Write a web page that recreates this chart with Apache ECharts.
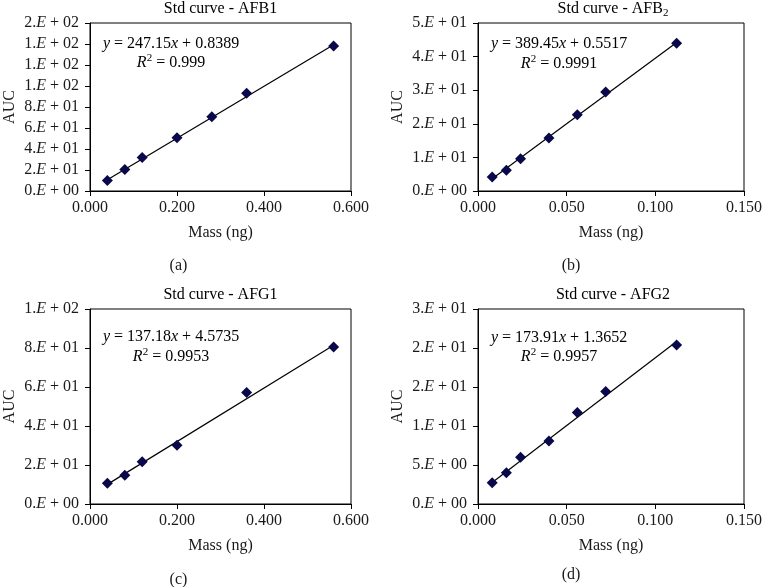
<!DOCTYPE html>
<html>
<head>
<meta charset="utf-8">
<script src="https://cdn.jsdelivr.net/npm/echarts@6/dist/echarts.min.js"></script>
<style>html,body{margin:0;padding:0;background:#fff;}#c{width:765px;height:587px;}</style>
</head>
<body>
<div id="c"></div>
<script>
// ---- data ----
const massA = [0.04, 0.08, 0.12, 0.20, 0.28, 0.36, 0.56];
const aucA  = [10.0, 20.4, 31.9, 50.6, 70.6, 93.2, 138.0];
const massB = [0.008, 0.016, 0.024, 0.040, 0.056, 0.072, 0.112];
const aucB  = [4.2, 6.2, 9.6, 15.8, 22.7, 29.5, 44.0];
const massC = [0.04, 0.08, 0.12, 0.20, 0.36, 0.56];
const aucC  = [10.6, 14.7, 21.7, 30.1, 57.2, 80.5];
const massD = [0.008, 0.016, 0.024, 0.040, 0.056, 0.072, 0.112];
const aucD  = [2.74, 4.02, 5.99, 8.09, 11.73, 14.43, 20.4];

const slopes     = [247.15, 389.45, 137.18, 173.91];
const intercepts = [0.8389, 0.5517, 4.5735, 1.3652];
const r2Values   = ['0.999', '0.9991', '0.9953', '0.9957'];
const slopeText  = ['247.15', '389.45', '137.18', '173.91'];
const interText  = ['0.8389', '0.5517', '4.5735', '1.3652'];

const yTicksA = ['0.E + 00','2.E + 01','4.E + 01','6.E + 01','8.E + 01','1.E + 02','1.E + 02','1.E + 02','2.E + 02'];
const yTicksB = ['0.E + 00','1.E + 01','2.E + 01','3.E + 01','4.E + 01','5.E + 01'];
const yTicksC = ['0.E + 00','2.E + 01','4.E + 01','6.E + 01','8.E + 01','1.E + 02'];
const yTicksD = ['0.E + 00','5.E + 00','1.E + 01','2.E + 01','2.E + 01','3.E + 01'];
const xTicksAC = ['0.000','0.200','0.400','0.600'];
const xTicksBD = ['0.000','0.050','0.100','0.150'];

const titles = ['Std curve - AFB1', 'Std curve - AFB{sub|2}', 'Std curve - AFG1', 'Std curve - AFG2'];
const panelTags = ['(a)', '(b)', '(c)', '(d)'];

// ---- layout ----
const FONT = '"Liberation Serif", "Times New Roman", serif';
const FS = 16;
const TXT = '#1a1a1a';
const MARK = '#08084a';
const panels = [
  {mass: massA, auc: aucA, yTicks: yTicksA, xTicks: xTicksAC, xMax: 0.6, xInt: 0.2, yMax: 160, yInt: 20,
   grid: {left: 90, top: 23, width: 261, height: 168}, titleY: 9, eqY: 44, r2Y: 63, tagY: 266},
  {mass: massB, auc: aucB, yTicks: yTicksB, xTicks: xTicksBD, xMax: 0.15, xInt: 0.05, yMax: 50, yInt: 10,
   grid: {left: 478, top: 23, width: 270, height: 168}, titleY: 9, eqY: 44, r2Y: 64, tagY: 266},
  {mass: massC, auc: aucC, yTicks: yTicksC, xTicks: xTicksAC, xMax: 0.6, xInt: 0.2, yMax: 100, yInt: 20,
   grid: {left: 90, top: 309, width: 261, height: 195}, titleY: 295, eqY: 337, r2Y: 357, tagY: 580},
  {mass: massD, auc: aucD, yTicks: yTicksD, xTicks: xTicksBD, xMax: 0.15, xInt: 0.05, yMax: 25, yInt: 5,
   grid: {left: 478, top: 309, width: 270, height: 195}, titleY: 295, eqY: 338, r2Y: 357, tagY: 575}
];

const richBase = {
  n: {fontFamily: FONT, fontSize: FS, color: TXT},
  e: {fontFamily: FONT, fontSize: FS, color: TXT, fontStyle: 'italic'}
};
function eLabel(s) {
  return '{n|' + s.replace('E', '}{e|E}{n|') + '}';
}

const grids = [], xAxes = [], yAxes = [], series = [], graphics = [];
panels.forEach((p, i) => {
  grids.push(Object.assign({show: true, borderColor: '#000', borderWidth: 1, backgroundColor: 'transparent'}, p.grid));
  xAxes.push({
    type: 'value', gridIndex: i, min: 0, max: p.xMax, interval: p.xInt,
    name: 'Mass (ng)', nameLocation: 'middle', nameGap: 34,
    nameTextStyle: {fontFamily: FONT, fontSize: FS, color: TXT},
    axisLine: {show: true, lineStyle: {color: '#000', width: 1}},
    axisTick: {show: true, length: 5, lineStyle: {color: '#000'}},
    splitLine: {show: false},
    axisLabel: {margin: 9, fontFamily: FONT, fontSize: FS, color: TXT,
      formatter: (v, idx) => p.xTicks[idx]}
  });
  yAxes.push({
    type: 'value', gridIndex: i, min: 0, max: p.yMax, interval: p.yInt,
    name: 'AUC', nameLocation: 'middle', nameGap: 72, nameRotate: 90,
    nameTextStyle: {fontFamily: FONT, fontSize: FS, color: TXT},
    axisLine: {show: true, lineStyle: {color: '#000', width: 1}},
    axisTick: {show: true, length: 5, lineStyle: {color: '#000'}},
    splitLine: {show: false},
    axisLabel: {margin: 11, formatter: (v, idx) => eLabel(p.yTicks[idx]), rich: richBase}
  });
  const x0 = p.mass[0], x1 = p.mass[p.mass.length - 1];
  series.push({
    type: 'line', xAxisIndex: i, yAxisIndex: i, symbol: 'none', silent: true,
    lineStyle: {color: '#000', width: 1.2},
    data: [[x0, slopes[i] * x0 + intercepts[i]], [x1, slopes[i] * x1 + intercepts[i]]],
    z: 2
  });
  series.push({
    type: 'scatter', xAxisIndex: i, yAxisIndex: i, symbol: 'diamond', symbolSize: [11, 11],
    itemStyle: {color: MARK, opacity: 1},
    data: p.mass.map((m, k) => [m, p.auc[k]]),
    z: 3
  });
  const cx = p.grid.left + p.grid.width / 2;
  const textRich = {
    t: {fontFamily: FONT, fontSize: FS, color: TXT, lineHeight: 20},
    sub: {fontFamily: FONT, fontSize: 11, color: TXT, lineHeight: 20, verticalAlign: 'bottom'},
    sup: {fontFamily: FONT, fontSize: 11, color: TXT, lineHeight: 20, verticalAlign: 'top'},
    i: {fontFamily: FONT, fontSize: FS, color: TXT, fontStyle: 'italic', lineHeight: 20},
    n: {fontFamily: FONT, fontSize: FS, color: TXT, lineHeight: 20}
  };
  graphics.push({type: 'text', x: cx, y: p.titleY, z: 10,
    style: {text: '{t|' + titles[i].replace('{sub|2}', '}{sub|2}{t|') + '}', rich: textRich, align: 'center', verticalAlign: 'middle'}});
  const eqX = p.grid.left + 81;
  graphics.push({type: 'text', x: eqX, y: p.eqY, z: 10,
    style: {text: '{i|y}{n| = ' + slopeText[i] + '}{i|x}{n| + ' + interText[i] + '}', rich: textRich, align: 'center', verticalAlign: 'middle'}});
  graphics.push({type: 'text', x: eqX, y: p.r2Y, z: 10,
    style: {text: '{i|R}{sup|2}{n| = ' + r2Values[i] + '}', rich: textRich, align: 'center', verticalAlign: 'middle'}});
  graphics.push({type: 'text', x: cx - 42, y: p.tagY, z: 10,
    style: {text: panelTags[i], fontFamily: FONT, fontSize: FS, fill: TXT, align: 'center', verticalAlign: 'middle'}});
});

const chart = echarts.init(document.getElementById('c'), null, {renderer: 'canvas'});
chart.setOption({
  animation: false,
  backgroundColor: '#fff',
  grid: grids, xAxis: xAxes, yAxis: yAxes, series: series, graphic: graphics
});
</script>
</body>
</html>
